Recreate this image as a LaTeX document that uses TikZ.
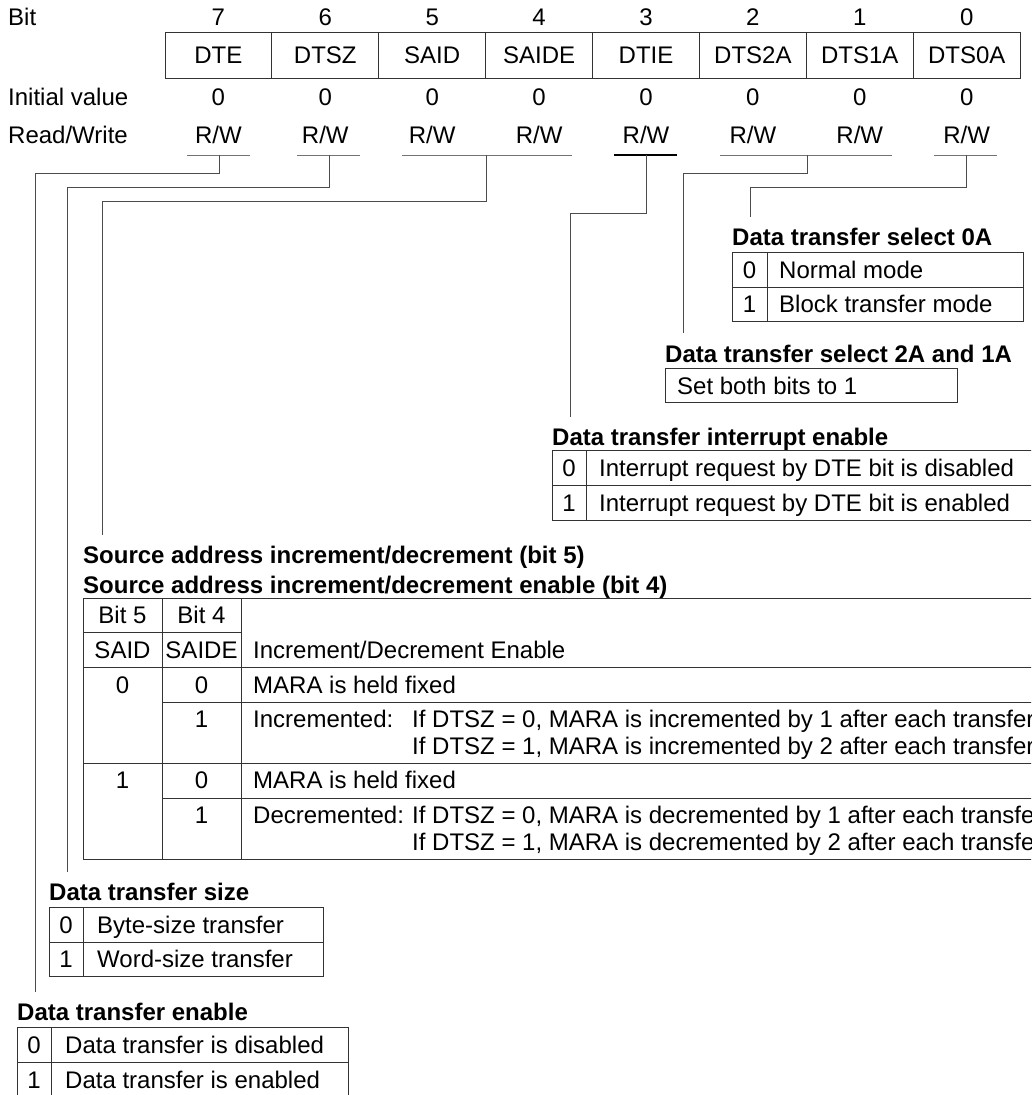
\documentclass[tikz,border=0pt]{standalone}
\usepackage{fontspec}
\setmainfont{Liberation Sans}
\usetikzlibrary{positioning}

\tikzset{
  txt/.style={anchor=base west, inner sep=0pt, font=\fontsize{24}{28}\selectfont},
  ctxt/.style={anchor=base, inner sep=0pt, font=\fontsize{24}{28}\selectfont},
  ttl/.style={anchor=base west, inner sep=0pt, font=\fontsize{24}{28}\selectfont\bfseries},
  rule/.style={line width=1pt, black!80},
  uline/.style={line width=1pt, black!55},
  wire/.style={line width=1pt, black!70},
}

\begin{document}
\begin{tikzpicture}[x=1pt, y=-1pt]
    \useasboundingbox (0,0) rectangle (1031,1095);
    \clip (0,0) rectangle (1031,1095);

    % row labels
    \node[txt] (lbit) at (8,25) {Bit};
    \node[txt] (linit) at (8,105) {Initial value};
    \node[txt] (lrw) at (8,143) {Read/Write};

    % register
    \draw[rule] (165,32) rectangle (1020,78);
    \foreach \n [count=\i from 0] in {DTE,DTSZ,SAID,SAIDE,DTIE,DTS2A,DTS1A,DTS0A} {
        \pgfmathsetmacro\cx{218.4+106.9*\i}
        \pgfmathtruncatemacro\b{7-\i}
        \ifnum\i>0 \draw[rule] (\cx-53.45,32) -- (\cx-53.45,78); \fi
        \node[ctxt] (b\b) at (\cx,25) {\b};
        \node[ctxt] (reg\b) at (\cx,63.5) {\n};
        \node[ctxt] (iv\b) at (\cx,105) {0};
        \node[ctxt] (rw\b) at (\cx,143) {R/W};
    }

    % underlines
    \draw[uline] (187,155) -- (250,155);
    \draw[uline] (297,155) -- (360,155);
    \draw[uline] (402,155) -- (572,155);
    \draw[line width=1.3pt, black] (614,155) -- (677,155);
    \draw[uline] (720,155) -- (892,155);
    \draw[uline] (934,155) -- (997,155);

    \coordinate (u7) at (219,155);
    \coordinate (u6) at (329,155);
    \coordinate (u54) at (486,155);
    \coordinate (u3) at (646,155);
    \coordinate (u21) at (807,155);
    \coordinate (u0) at (966,155);

    \coordinate (e7) at (35,992);
    \coordinate (e6) at (67,872);
    \coordinate (e54) at (102,535);
    \coordinate (e3) at (570,417);
    \coordinate (e21) at (683,333);
    \coordinate (e0) at (750,217);

    \draw[wire] (u7) |- (35,173) -- (e7);
    \draw[wire] (u6) |- (67,187) -- (e6);
    \draw[wire] (u54) |- (102,201) -- (e54);
    \draw[wire] (u3) |- (570,213) -- (e3);
    \draw[wire] (u21) |- (683,173) -- (e21);
    \draw[wire] (u0) |- (750,187) -- (e0);

    % DTS0A
    \node[ttl] (t0a) at (732,245) {Data transfer select 0A};
    \draw[rule] (732,252) rectangle (1023,321);
    \draw[rule] (732,287) -- (1023,287);
    \draw[rule] (767,252) -- (767,321);
    \node[ctxt] (s0a0) at (749.5,278) {0};
    \node[txt] (s0a0t) at (779,278) {Normal mode};
    \node[ctxt] (s0a1) at (749.5,312) {1};
    \node[txt] (s0a1t) at (779,312) {Block transfer mode};

    % DTS2A, DTS1A
    \node[ttl] (t21) at (665,362) {Data transfer select 2A and 1A};
    \draw[rule] (665,368) rectangle (957,402);
    \node[txt] (s21t) at (677,394) {Set both bits to 1};

    % DTIE
    \node[ttl] (tie) at (552,445) {Data transfer interrupt enable};
    \draw[rule] (552,450) rectangle (1045,520);
    \draw[rule] (552,485) -- (1045,485);
    \draw[rule] (586,450) -- (586,520);
    \node[ctxt] (ie0) at (569,476) {0};
    \node[txt] (ie0t) at (599,476) {Interrupt request by DTE bit is disabled};
    \node[ctxt] (ie1) at (569,511) {1};
    \node[txt] (ie1t) at (599,511) {Interrupt request by DTE bit is enabled};

    % SAID, SAIDE
    \node[ttl] (tsa1) at (83,563) {Source address increment/decrement (bit 5)};
    \node[ttl] (tsa2) at (83,593) {Source address increment/decrement enable (bit 4)};
    \draw[rule] (1045,598) -- (83,598) -- (83,859) -- (1045,859);
    \draw[rule] (162,598) -- (162,859);
    \draw[rule] (241,598) -- (241,859);
    \draw[rule] (83,632) -- (241,632);
    \draw[rule] (83,667) -- (1045,667);
    \draw[rule] (162,702) -- (1045,702);
    \draw[rule] (83,763) -- (1045,763);
    \draw[rule] (162,798) -- (1045,798);

    \node[ctxt] (h5) at (122.5,623) {Bit 5};
    \node[ctxt] (h4) at (201.5,623) {Bit 4};
    \node[ctxt] (hsaid) at (122.5,658) {SAID};
    \node[ctxt] (hsaide) at (201.5,658) {SAIDE};
    \node[txt] (hie) at (253,658) {Increment/Decrement Enable};

    \node[ctxt] (r1a) at (122.5,693) {0};
    \node[ctxt] (r1b) at (201.5,693) {0};
    \node[txt] (r1t) at (253,693) {MARA is held fixed};
    \node[ctxt] (r2b) at (201.5,727) {1};
    \node[txt] (r2t) at (253,727) {Incremented:};
    \node[txt] (r2u) at (412,727) {If DTSZ = 0, MARA is incremented by 1 after each transfer};
    \node[txt] (r2v) at (412,754) {If DTSZ = 1, MARA is incremented by 2 after each transfer};
    \node[ctxt] (r3a) at (122.5,788) {1};
    \node[ctxt] (r3b) at (201.5,788) {0};
    \node[txt] (r3t) at (253,788) {MARA is held fixed};
    \node[ctxt] (r4b) at (201.5,823) {1};
    \node[txt] (r4t) at (253,823) {Decremented:};
    \node[txt] (r4u) at (412,823) {If DTSZ = 0, MARA is decremented by 1 after each transfer};
    \node[txt] (r4v) at (412,850) {If DTSZ = 1, MARA is decremented by 2 after each transfer};

    % DTSZ
    \node[ttl] (tsz) at (49,900) {Data transfer size};
    \draw[rule] (49,907) rectangle (323,976);
    \draw[rule] (49,942) -- (323,942);
    \draw[rule] (83,907) -- (83,976);
    \node[ctxt] (sz0) at (66,933) {0};
    \node[txt] (sz0t) at (97,933) {Byte-size transfer};
    \node[ctxt] (sz1) at (66,967) {1};
    \node[txt] (sz1t) at (97,967) {Word-size transfer};

    % DTE
    \node[ttl] (tte) at (17,1020) {Data transfer enable};
    \draw[rule] (17,1027) rectangle (348,1110);
    \draw[rule] (17,1062) -- (348,1062);
    \draw[rule] (51,1027) -- (51,1110);
    \node[ctxt] (te0) at (34,1053) {0};
    \node[txt] (te0t) at (65,1053) {Data transfer is disabled};
    \node[ctxt] (te1) at (34,1088) {1};
    \node[txt] (te1t) at (65,1088) {Data transfer is enabled};
\end{tikzpicture}
\end{document}
